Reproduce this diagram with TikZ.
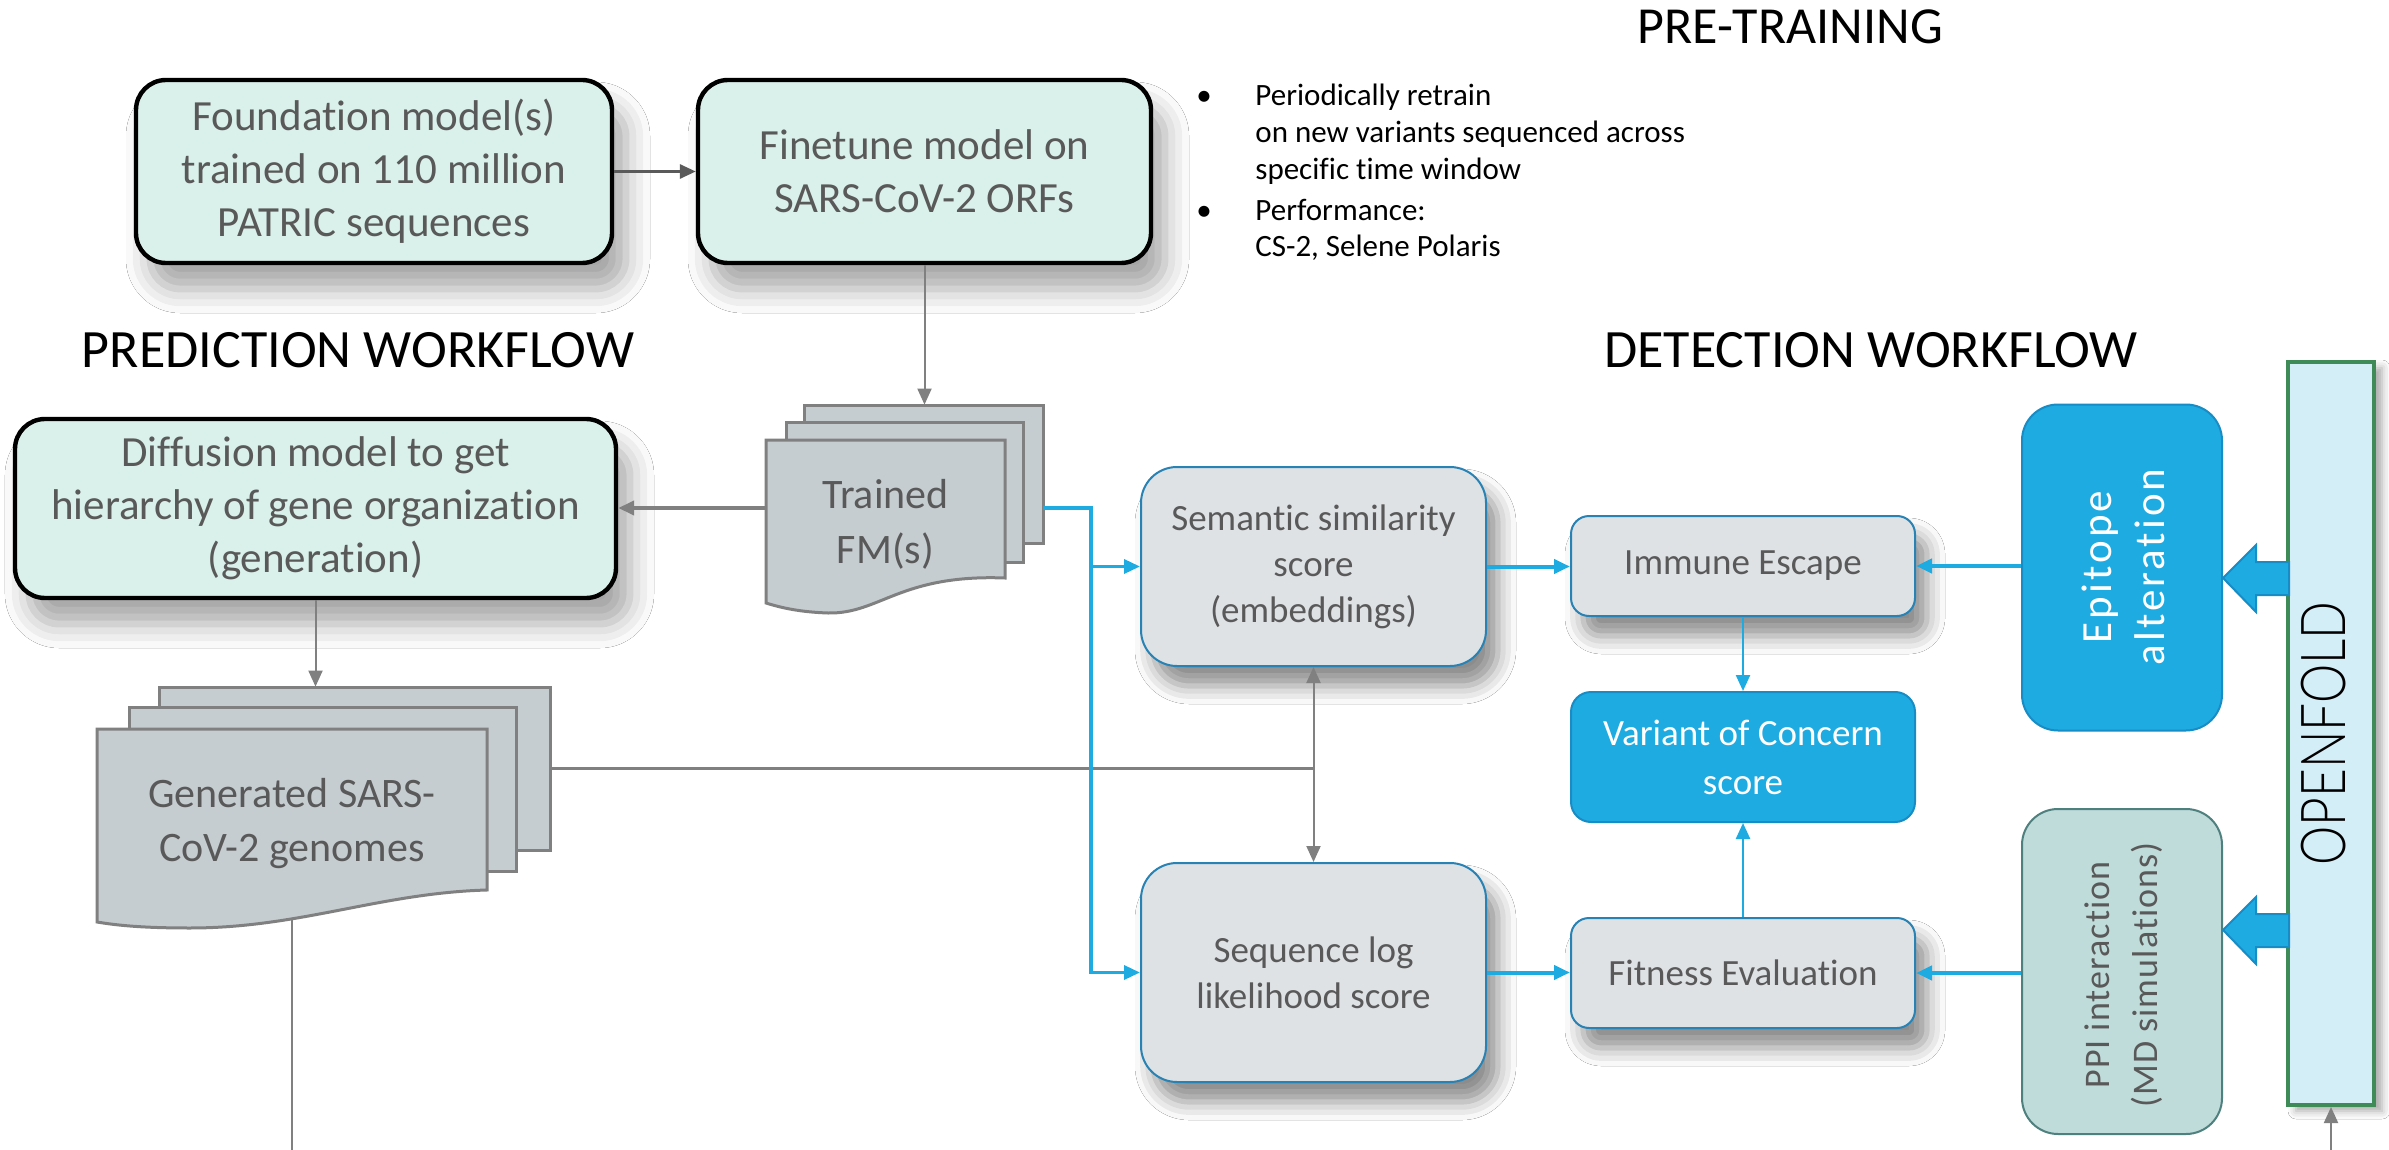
\documentclass[tikz,border=0pt]{standalone}
\usepackage{fontspec}
\setmainfont{Carlito}[Ligatures=NoCommon]
\newfontfamily\ofont[FakeStretch=0.8]{Lato Light}
\newfontfamily\rfont[LetterSpace=7,Ligatures=NoCommon]{Carlito}
\newfontfamily\pfont[LetterSpace=3,Ligatures=NoCommon]{Carlito}
\usetikzlibrary{arrows.meta,shadows.blur,calc}

\definecolor{mint}{RGB}{218,240,234}
\definecolor{txtgray}{RGB}{89,89,89}
\definecolor{docfill}{RGB}{198,205,209}
\definecolor{docline}{RGB}{128,128,128}
\definecolor{detfill}{RGB}{222,226,229}
\definecolor{detline}{RGB}{40,130,180}
\definecolor{vblue}{RGB}{30,171,226}
\definecolor{vblueline}{RGB}{24,140,196}
\definecolor{ppifill}{RGB}{191,219,218}
\definecolor{ppiline}{RGB}{78,128,126}
\definecolor{offill}{RGB}{212,238,248}
\definecolor{ofline}{RGB}{62,139,88}
\definecolor{cgray}{RGB}{128,128,128}
\definecolor{cdark}{RGB}{90,90,90}

\begin{document}
\begin{tikzpicture}[x=0.5pt,y=-0.5pt,
  pbox/.style={draw=black, line width=2.2pt, fill=mint, rounded corners=15pt, text=txtgray,
    align=center, inner sep=0pt, font=\fontsize{21.5}{26.5}\selectfont,
    blur shadow={shadow xshift=7pt, shadow yshift=-13pt, shadow blur radius=12pt, shadow opacity=35}},
  dbox/.style={draw=detline, line width=1pt, fill=detfill, text=txtgray, align=center,
    inner sep=0pt, font=\fontsize{18.5}{23}\selectfont,
    blur shadow={shadow xshift=6pt, shadow yshift=-10pt, shadow blur radius=9pt, shadow opacity=45}},
  bbox/.style={draw=vblueline, line width=1pt, fill=vblue, text=white, align=center, inner sep=0pt},
  rottext/.style={rotate=90, align=center, inner sep=0pt},
  docpage/.style={fill=docfill, draw=docline, line width=1.5pt},
  gline/.style={draw=cgray, line width=1pt},
  arr/.style={-{Triangle[length=8pt,width=7pt]}},
  bline/.style={draw=vblue, line width=2pt},
  ttl/.style={font=\fontsize{27}{30}\selectfont, anchor=base, text=black, inner sep=0pt},
  btxt/.style={font=\fontsize{15.5}{18}\selectfont, anchor=base west, inner sep=0pt, text=black},
  barrow/.style={fill=vblue, draw=vblueline, line width=1pt}
]
\fill[white] (0,0) rectangle (2389,1150);
\useasboundingbox (0,0) rectangle (2389,1150);

% ---------- pre-training ----------
\node[pbox, minimum width=238pt, minimum height=91.5pt] (found) at (374,171.5)
  {Foundation model(s)\\trained on 110 million\\PATRIC sequences};
\node[pbox, minimum width=226.5pt, minimum height=91.5pt] (fine) at (924.5,171.5)
  {Finetune model on\\SARS-CoV-2 ORFs};
\node[ttl, font=\fontsize{26}{30}\selectfont] (tpre) at (1790,44) {PRE-TRAINING};
\node[btxt] (bu1) at (1196,106) {•};
\node[btxt] (l1) at (1255,106) {Periodically retrain};
\node[btxt] (l2) at (1255,143) {on new variants sequenced across};
\node[btxt] (l3) at (1255,180) {specific time window};
\node[btxt] (bu2) at (1196,221) {•};
\node[btxt] (l4) at (1255,221) {Performance:};
\node[btxt] (l5) at (1255,257) {CS-2, Selene Polaris};

% ---------- prediction ----------
\node[ttl] (tpred) at (358,367) {PREDICTION WORKFLOW};
\node[pbox, minimum width=300.5pt, minimum height=89.5pt] (diff) at (315.5,508.5)
  {Diffusion model to get\\hierarchy of gene organization\\(generation)};

% Trained FM(s) multi-document
\draw[docpage] (804,405) rectangle (1043,543);
\draw[docpage] (786,422) rectangle (1023,562);
\draw[docpage] (766,440) -- (1005,440) -- (1005,578)
  .. controls (900,574) and (880,614) .. (828,613)
  .. controls (800,612) and (782,608) .. (766,603) -- cycle;
\node[inner sep=0pt, minimum width=119.5pt, minimum height=69pt] (fmback) at (923.5,474) {};
\node[inner sep=0pt, minimum width=119.5pt, minimum height=68pt] (fmfront) at (885.5,508) {};
\node[text=txtgray, align=center, inner sep=0pt, font=\fontsize{21}{27.5}\selectfont] (fmtext) at (885.5,524) {Trained\\FM(s)};

% Generated genomes multi-document
\draw[docpage] (159,687) rectangle (550,850);
\draw[docpage] (129,707) rectangle (516,871);
\draw[docpage] (97,729) -- (487,729) -- (487,890)
  .. controls (380,893) and (300,928) .. (190,928)
  .. controls (140,928) and (115,925) .. (97,922) -- cycle;
\node[inner sep=0pt, minimum width=195.5pt, minimum height=81.5pt] (gback) at (354.5,768.5) {};
\node[inner sep=0pt, minimum width=195pt, minimum height=94.5pt, text=txtgray, align=center,
  font=\fontsize{21}{27}\selectfont] (gfront) at (292,823.5) {Generated SARS-\\CoV-2 genomes};

% ---------- detection ----------
\node[ttl] (tdet) at (1871,367) {DETECTION WORKFLOW};
\node[dbox, minimum width=172.5pt, minimum height=99.5pt, rounded corners=18pt] (sem) at (1313.5,566.5)
  {Semantic similarity\\score\\(embeddings)};
\node[dbox, minimum width=172.5pt, minimum height=109.5pt, rounded corners=18pt] (seq) at (1313.5,972.5)
  {Sequence log\\likelihood score};
\node[dbox, minimum width=172pt, minimum height=50pt, rounded corners=9pt] (imm) at (1743,566) {Immune Escape};
\node[dbox, minimum width=172pt, minimum height=55pt, rounded corners=9pt] (fit) at (1743,973) {Fitness Evaluation};
\node[bbox, minimum width=172pt, minimum height=65pt, rounded corners=10pt,
  font=\fontsize{18.5}{24.5}\selectfont] (voc) at (1743,757) {Variant of Concern\\score};
\node[bbox, minimum width=100pt, minimum height=163pt, rounded corners=18pt] (epi) at (2122,567.5) {};
\node[rottext, text=white, font=\rfont\fontsize{21.5}{26.5}\selectfont] (epit) at (2123,567) {Epitope\\alteration};
\node[draw=ppiline, fill=ppifill, line width=1pt, minimum width=100pt, minimum height=162.5pt,
  rounded corners=18pt, inner sep=0pt] (ppi) at (2122,971.5) {};
\node[rottext, text=txtgray, font=\pfont\fontsize{18}{24}\selectfont] (ppit) at (2124,975) {PPI interaction\\(MD simulations)};
\node[draw=ofline, fill=offill, line width=2pt, minimum width=43pt, minimum height=371.5pt, inner sep=0pt,
  blur shadow={shadow xshift=4pt, shadow yshift=-3pt, shadow blur radius=4pt, shadow opacity=35}] (of) at (2331,733.5) {};
\node[rotate=90, inner sep=0pt, font=\ofont\fontsize{31}{36}\selectfont, text=black] (oft) at (2324,733.5) {OPENFOLD};

% block arrows from OPENFOLD
\path (epi.east) ++(0,10.5) coordinate (eatip);
\draw[barrow] (eatip) -- ++(33,-33) -- ++(0,17) -- ++(33,0) -- ++(0,33) -- ++(-33,0) -- ++(0,17) -- cycle;
\path (ppi.east) ++(0,-41.5) coordinate (patip);
\draw[barrow] (patip) -- ++(33,-33) -- ++(0,17) -- ++(33,0) -- ++(0,33) -- ++(-33,0) -- ++(0,17) -- cycle;

% ---------- gray connectors ----------
\draw[arr, draw=cdark, line width=1.5pt] (found.east) -- (fine.west);
\draw[arr, gline] (fine.south) -- (fine.south |- fmback.north);
\draw[arr, draw=cgray, line width=2pt] (fmfront.west) -- (fmfront.west -| diff.east);
\draw[arr, gline] (diff.south) -- (diff.south |- gback.north);
\draw[draw=cgray, line width=1.8pt] (gback.east) -- (gback.east -| sem.south);
\draw[{Triangle[length=8pt,width=7pt]}-{Triangle[length=8pt,width=7pt]}, gline] (sem.south) -- (seq.north);
\coordinate (gout) at (292,1150);
\draw[gline] (gfront.south) -- (gout);
\coordinate (ofin) at (2331,1150);
\draw[arr, gline] (ofin) -- (of.south);

% ---------- blue connectors ----------
\coordinate (bj) at (1091,508);
\draw[arr, bline, line width=1.7pt] (fmback.east |- fmfront.west) -- (bj) |- (seq.west);
\draw[arr, bline, line width=1.7pt] (bj |- sem.west) -- (sem.west);
\draw[arr, bline] (sem.east) -- (sem.east -| imm.west);
\draw[arr, draw=vblue, line width=1.2pt] (imm.south) -- (voc.north);
\draw[arr, bline] (epi.west |- imm.east) -- (imm.east);
\draw[arr, bline] (seq.east) -- (seq.east -| fit.west);
\draw[arr, bline] (ppi.west |- fit.east) -- (fit.east);
\draw[arr, draw=vblue, line width=1.2pt] (fit.north) -- (voc.south);
\end{tikzpicture}
\end{document}
